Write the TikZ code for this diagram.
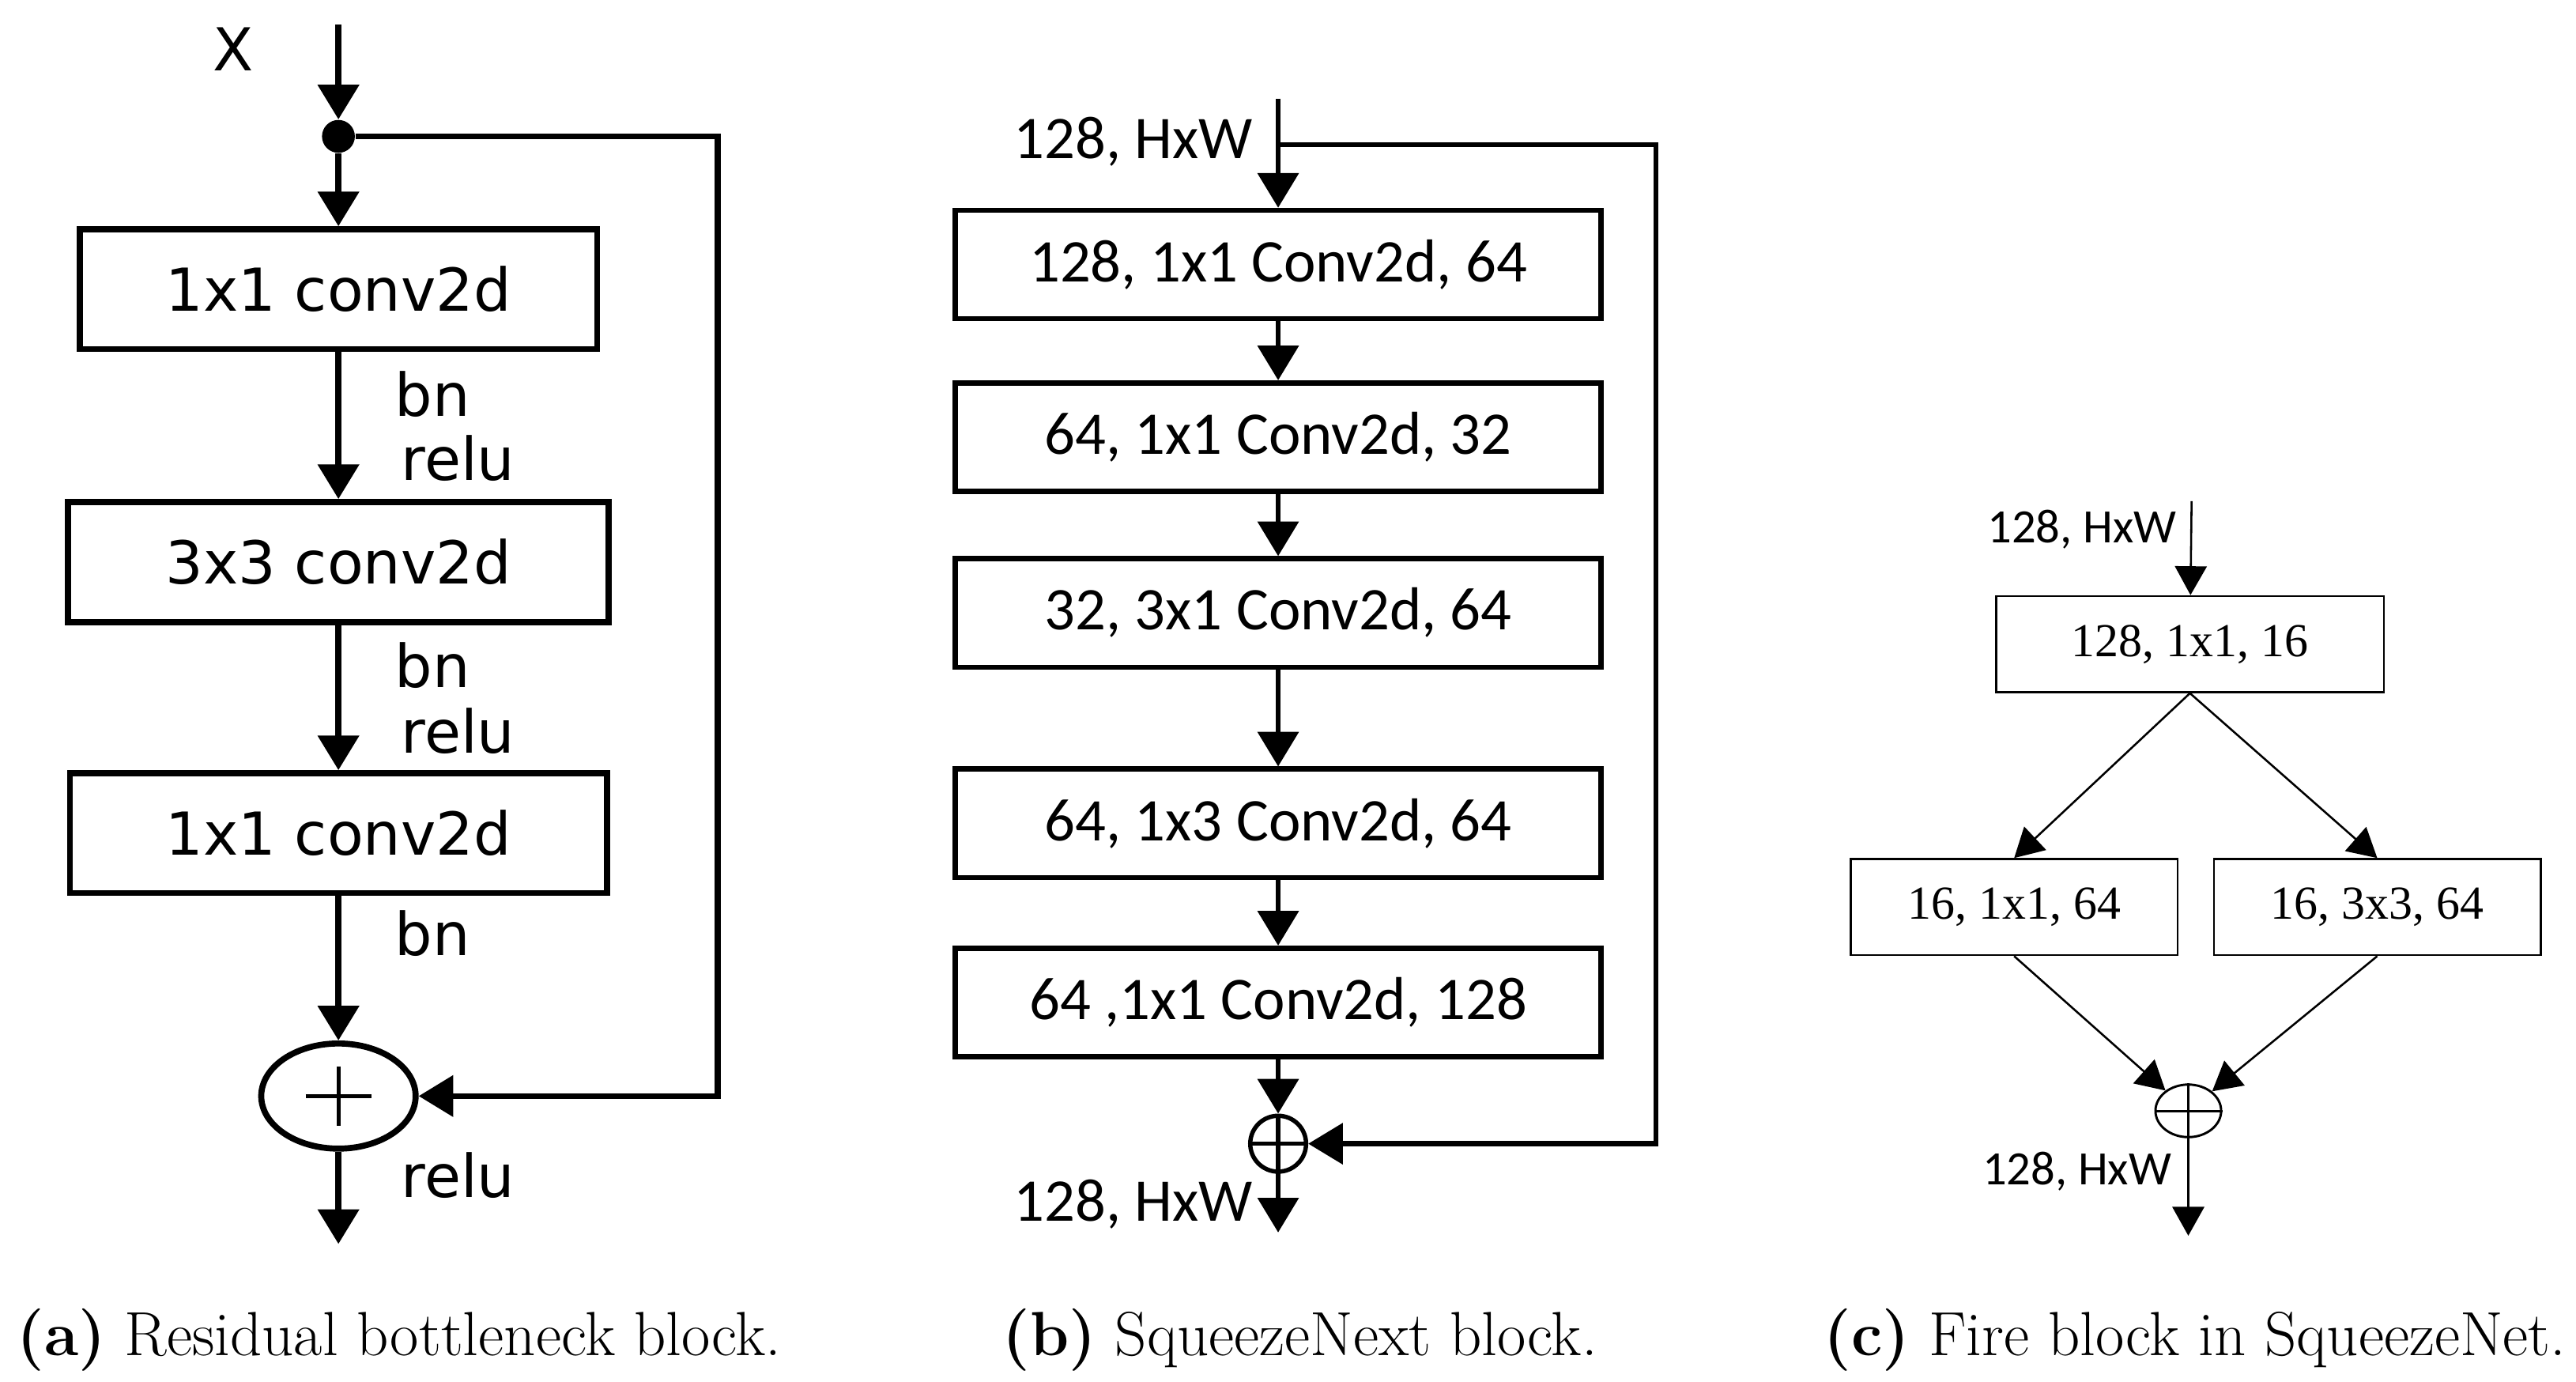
\documentclass[tikz,border=0pt]{standalone}
\usepackage{fontspec}
\newfontfamily\verdanafont{DejaVu Sans}
\newfontfamily\calibrifont{Carlito}
\newfontfamily\timesfont{Liberation Serif}
\usepackage{tikz}
\usetikzlibrary{arrows.meta, shapes.geometric}
\tikzset{
  arr/.style={-{Triangle[width=14pt,length=12pt]}},
  thinarr/.style={-{Triangle[width=11pt,length=10pt]}},
  aline/.style={line width=2.1pt},
  bline/.style={line width=1.8pt},
  cline/.style={line width=0.7pt},
  ablock/.style={draw, aline, minimum height=1.46cm, inner sep=0pt,
    font=\verdanafont\fontsize{20.5}{24}\selectfont},
  bblock/.style={draw, bline, minimum width=7.86cm, minimum height=1.32cm,
    inner sep=0pt, font=\calibrifont\fontsize{21}{25}\selectfont},
  cblock/.style={draw, cline, minimum height=1.17cm, inner sep=0pt,
    font=\timesfont\fontsize{16.4}{20}\selectfont},
  alabel/.style={anchor=west, inner sep=0pt,
    font=\verdanafont\fontsize{20.5}{24}\selectfont},
  blabel/.style={anchor=east, inner sep=0pt,
    font=\calibrifont\fontsize{21}{25}\selectfont},
  clabel/.style={anchor=east, inner sep=0pt,
    font=\calibrifont\fontsize{16.6}{20}\selectfont},
  subcap/.style={anchor=base west, inner sep=0pt,
    font=\fontsize{21.6}{26}\selectfont},
  dot/.style={circle, fill, inner sep=0pt, minimum size=0.4cm},
}

\begin{document}
\begin{tikzpicture}[x=0.02cm, y=-0.02cm]
  \useasboundingbox (0,0) rectangle (1568,841);

  %% Residual bottleneck block
  \node[alabel, anchor=center] (ax) at (142,30) {X};
  \coordinate (ain) at (206,15);
  \node[dot] (adot) at (206,83) {};
  \coordinate (askip) at (437,83);
  \foreach \n/\y/\w/\t in {a1/176/6.3cm/1x1 conv2d,
                           a2/342/6.58cm/3x3 conv2d,
                           a3/507/6.54cm/1x1 conv2d}{
    \node[ablock, minimum width=\w] (\n) at (206,\y) {\t};
  }
  \node[ellipse, draw, aline, minimum width=1.88cm, minimum height=1.28cm] (asum) at (206,667) {};
  \draw[line width=1.3pt] (asum.center) ++(-20,0) -- ++(40,0)
                          (asum.center) ++(0,-18) -- ++(0,36);
  \coordinate (aout) at (206,757);

  \draw[aline, arr] (ain) -- (adot);
  \draw[aline, arr] (adot) -- (a1);
  \draw[aline, arr] (a1) -- (a2);
  \draw[aline, arr] (a2) -- (a3);
  \draw[aline, arr] (a3) -- (asum);
  \draw[aline, arr] (asum) -- (aout);
  \draw[aline, arr] (adot) -- (askip) |- (asum);

  \foreach \n/\x/\y/\t in {abn1/240/240/bn, arelu1/244/279/relu,
                           abn2/240/405/bn, arelu2/244/445/relu,
                           abn3/240/568/bn, arelu3/244/715/relu}{
    \node[alabel] (\n) at (\x,\y) {\t};
  }

  %% SqueezeNext block
  \coordinate (bin) at (778,60);
  \coordinate (bsplit) at (778,88);
  \coordinate (bskip) at (1008,88);
  \node[blabel] (binlab) at (763,86) {128, HxW};
  \foreach \n/\y/\t in {b1/161/{128, 1x1 Conv2d, 64},
                        b2/266/{64, 1x1 Conv2d, 32},
                        b3/373/{32, 3x1 Conv2d, 64},
                        b4/501/{64, 1x3 Conv2d, 64},
                        b5/610/{64 ,1x1 Conv2d, 128}}{
    \node[bblock] (\n) at (778,\y) {\t};
  }
  \node[circle, draw, line width=1.5pt, minimum size=0.68cm, inner sep=0pt] (bsum) at (778,696) {};
  \draw[line width=1.5pt] (bsum.north) -- (bsum.south) (bsum.west) -- (bsum.east);
  \coordinate (bout) at (778,750);
  \node[blabel] (boutlab) at (763,733) {128, HxW};

  \draw[bline, arr] (bin) -- (b1);
  \foreach \a/\b in {b1/b2, b2/b3, b3/b4, b4/b5, b5/bsum}{
    \draw[bline, arr] (\a) -- (\b);
  }
  \draw[bline, arr] (bsum) -- (bout);
  \draw[bline, arr] (bsplit) -- (bskip) |- (bsum);

  %% Fire block
  \coordinate (cin) at (1334,305);
  \node[clabel] (cinlab) at (1325,322) {128, HxW};
  \node[cblock, minimum width=4.72cm] (ctop) at (1333,392) {128, 1x1, 16};
  \node[cblock, minimum width=3.98cm] (cleft) at (1226,552) {16, 1x1, 64};
  \node[cblock, minimum width=3.98cm] (cright) at (1447,552) {16, 3x3, 64};
  \node[ellipse, draw, line width=0.8pt, minimum width=0.8cm, minimum height=0.64cm, inner sep=0pt] (csum) at (1332,676) {};
  \draw[line width=0.8pt] (csum.north) -- (csum.south) (csum.west) -- (csum.east);
  \coordinate (cout) at (1332,752);
  \node[clabel] (coutlab) at (1322,713) {128, HxW};

  \draw[cline, thinarr] (cin) -- (ctop);
  \draw[cline, thinarr] (ctop.south) -- (cleft.north);
  \draw[cline, thinarr] (ctop.south) -- (cright.north);
  \draw[cline, thinarr] (cleft.south) -- (csum);
  \draw[cline, thinarr] (cright.south) -- (csum);
  \draw[cline, thinarr] (csum) -- (cout);

  %% Captions
  \node[subcap] (capa) at (10,825) {\textbf{(a)} Residual bottleneck block.};
  \node[subcap] (capb) at (610,825) {\textbf{(b)} SqueezeNext block.};
  \node[subcap] (capc) at (1110,825) {\textbf{(c)} Fire block in SqueezeNet.};
\end{tikzpicture}
\end{document}
